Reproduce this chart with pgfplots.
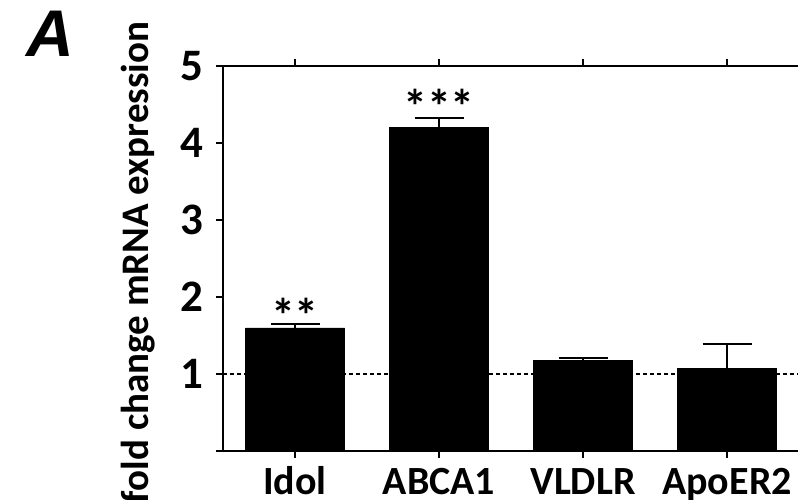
\documentclass[border=0pt]{standalone}
\usepackage{pgfplots}
\pgfplotsset{compat=1.18}
\usepackage{fontspec}
\setmainfont{Carlito}
\newfontfamily\panelfont{Liberation Sans}
\begin{document}
\begin{tikzpicture}[x=1pt,y=1pt]
\useasboundingbox (0,0) rectangle (798,500);
\clip (0,0) rectangle (798,500);
\node[font=\panelfont\bfseries\itshape\fontsize{66}{66}\selectfont, inner sep=0pt] at (50,466.5) {A};
\begin{axis}[
  at={(223pt,49pt)}, anchor=south west,
  scale only axis, width=576pt, height=385pt,
  xmin=-0.5, xmax=3.5, ymin=0, ymax=5,
  axis line style={draw=none},
  xtick={0,1,2,3}, xticklabels={Idol,ABCA1,VLDLR,ApoER2},
  ytick={0,1,2,3,4,5}, yticklabels={,1,2,3,4,5},
  tick align=outside, major tick length=7pt,
  tick style={black, line width=2pt},
  x tick label style={font=\bfseries\fontsize{40}{40}\selectfont, anchor=base, inner sep=0pt, yshift=-37pt},
  y tick label style={font=\bfseries\fontsize{45}{45}\selectfont, anchor=east, inner sep=0pt, xshift=-12pt},
  ylabel={fold change mRNA expression},
  ylabel style={font=\bfseries\fontsize{39}{39}\selectfont, at={(axis description cs:-0.148,0.49)}, anchor=center, inner sep=0pt},
  clip=false,
]
\addplot[black, line width=2pt, dash pattern=on 4pt off 3pt] coordinates {(-0.5,1) (3.5,1)};
\addplot[ybar, bar width=99pt, fill=black, draw=black,
  error bars/.cd, y dir=plus, y explicit,
  error bar style={line width=2pt, black},
  error mark options={line width=2pt, mark size=24.5pt, rotate=90, black}]
  coordinates {(0,1.60) +- (0,0.053) (1,4.20) +- (0,0.12) (2,1.178) +- (0,0.03) (3,1.069) +- (0,0.325)};
\draw[line width=2.5pt, black] (rel axis cs:0,1) -- (rel axis cs:0,0) -- (rel axis cs:1.01,0);
\draw[line width=2.5pt, black] (rel axis cs:0,1) -- (rel axis cs:1.01,1);
\node[font=\bfseries\fontsize{48}{48}\selectfont, inner sep=0pt] at (axis cs:0,1.76) {**};
\node[font=\bfseries\fontsize{48}{48}\selectfont, inner sep=0pt] at (axis cs:1,4.47) {***};
\end{axis}
\end{tikzpicture}
\end{document}
